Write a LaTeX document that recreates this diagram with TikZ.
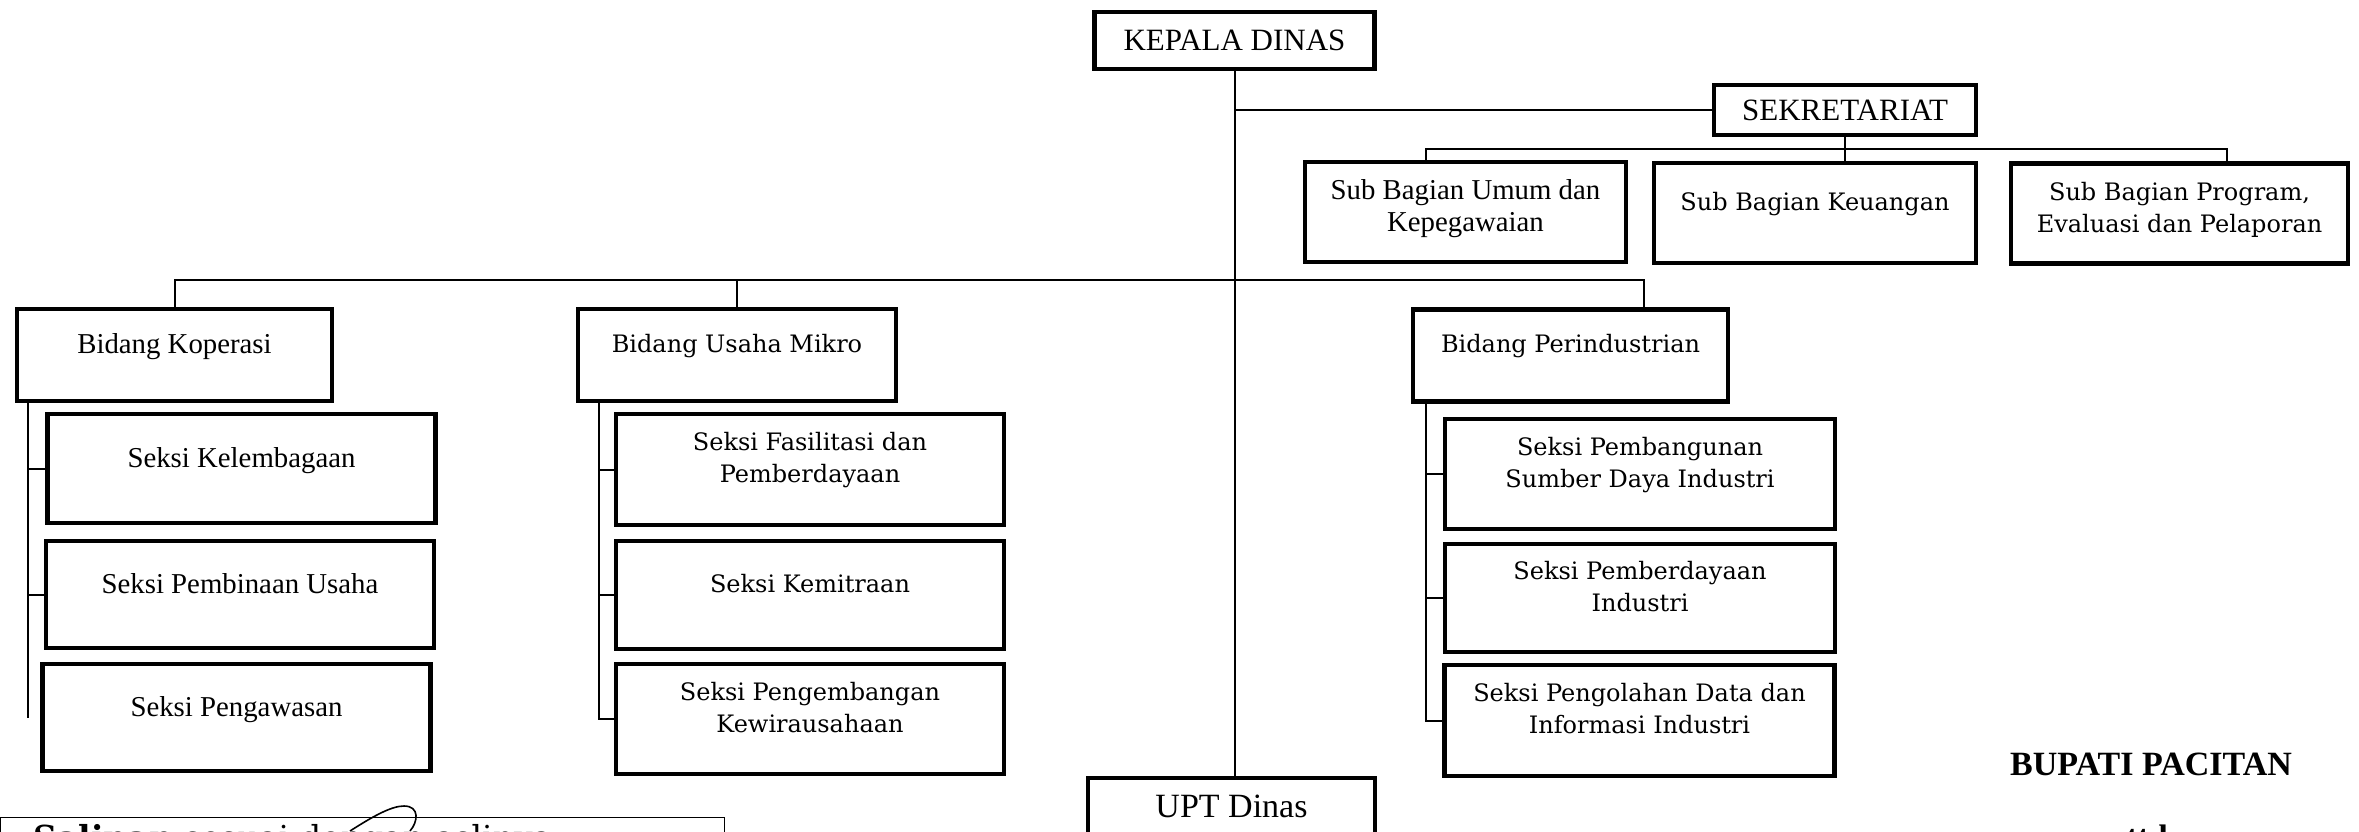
\documentclass[tikz,border=0pt]{standalone}
\usepackage{fontspec}
\setmainfont{Liberation Serif}
\newfontfamily\bookman{DejaVu Serif}
\usepackage{tikz}
\usetikzlibrary{calc}

\begin{document}
\begin{tikzpicture}[x=0.5pt,y=-0.5pt,
  unit/.style={draw, line width=2.2pt, align=center, inner sep=0pt},
  lifted/.style={text depth=12pt},
  romanlabel/.style={font=\fontsize{14.4}{16}\selectfont},
  booklabel/.style={font=\bookman\fontsize{12}{16}\selectfont},
  subbag/.style={unit, lifted, minimum height=50pt},
  bidang/.style={unit, lifted, minimum width=157.5pt, minimum height=46pt},
  seksi/.style={unit, lifted, minimum width=194pt, minimum height=54.5pt},
  link/.style={line width=1pt}]
\useasboundingbox (0,0) rectangle (2359,831);

\node[unit, font=\fontsize{15.5}{18}\selectfont, minimum width=140pt, minimum height=28.5pt] (kepala) at (1234.5,40.5) {KEPALA DINAS};
\node[unit, font=\fontsize{15.5}{18}\selectfont, minimum width=131pt, minimum height=25pt] (sekretariat) at (1845,110) {SEKRETARIAT};

\node[subbag, romanlabel, text depth=6pt, minimum width=160.5pt] (umum) at (1465.5,212) {Sub Bagian Umum dan\\Kepegawaian};
\node[subbag, booklabel, minimum width=161pt] (keuangan) at (1815,213) {Sub Bagian Keuangan};
\node[subbag, booklabel, text depth=6pt, minimum width=168.5pt] (program) at (2179.5,213.5) {Sub Bagian Program,\\Evaluasi dan Pelaporan};

\node[bidang, romanlabel] (koperasi) at (174.5,355) {Bidang Koperasi};
\node[bidang, booklabel, minimum width=159pt] (usaha) at (737,355) {Bidang Usaha Mikro};
\node[bidang, booklabel] (perindustrian) at (1570.5,355.5) {Bidang Perindustrian};

\node[seksi, romanlabel, text depth=11pt] (kelembagaan) at (241.5,468.5) {Seksi Kelembagaan};
\node[seksi, romanlabel, text depth=11pt, minimum height=53.5pt] (pembinaan) at (240,594.5) {Seksi Pembinaan Usaha};
\node[seksi, romanlabel, text depth=11pt, minimum height=53.5pt] (pengawasan) at (236.5,717.5) {Seksi Pengawasan};

\node[seksi, booklabel, minimum height=55.5pt] (fasilitasi) at (810,469.5) {Seksi Fasilitasi dan\\Pemberdayaan};
\node[seksi, booklabel, minimum height=54pt] (kemitraan) at (810,595) {Seksi Kemitraan};
\node[seksi, booklabel, minimum height=55pt] (pengembangan) at (810,719) {Seksi Pengembangan\\Kewirausahaan};

\node[seksi, booklabel, minimum width=195pt, minimum height=55pt] (pembangunan) at (1640,474) {Seksi Pembangunan\\Sumber Daya Industri};
\node[seksi, booklabel, minimum width=195pt, minimum height=54pt] (pemberdayaan) at (1640,598) {Seksi Pemberdayaan\\Industri};
\node[seksi, booklabel, minimum width=195pt, minimum height=55.5pt] (pengolahan) at (1639.5,720.5) {Seksi Pengolahan Data dan\\Informasi Industri};

\node[unit, font=\fontsize{17}{20}\selectfont, minimum width=143.5pt, minimum height=28pt] (upt) at (1231.5,806) {UPT Dinas};

\node[font=\bfseries\fontsize{17}{20}\selectfont, inner sep=0pt] (bupati) at (2151,764) {BUPATI PACITAN};
\node[font=\bfseries\fontsize{17}{20}\selectfont, inner sep=0pt, anchor=north] (ttd) at (2147,824) {ttd};

\node[draw, line width=0.6pt, anchor=north west, text width=329pt, align=left, inner xsep=16.5pt, inner ysep=3.5pt, font=\bookman\fontsize{16.5}{20}\selectfont] (salinan) at (0,817) {\textbf{Salinan} sesuai dengan aslinya};
\draw[line width=0.8pt] (350,831) .. controls (375,815) and (392,806) .. (404,806) .. controls (420,806) and (418,822) .. (410,831);

\coordinate (busL) at (1426,149);
\coordinate (busR) at (2227,149);
\coordinate (mainbus) at (1644,280);
\coordinate (kline) at (28,0);
\coordinate (uline) at (599,0);
\coordinate (pline) at (1426,0);

\draw[link] (kepala.south) -- (kepala.south |- upt.north);
\draw[link] (kepala.south |- sekretariat.west) -- (sekretariat.west);
\draw[link] (sekretariat.south) -- (sekretariat.south |- keuangan.north);
\draw[link] (busL |- umum.north) -- (busL) -- (busR) -- (busR |- program.north);

\draw[link] (koperasi.north) |- (mainbus) -- (mainbus |- perindustrian.north);
\draw[link] (usaha.north) -- (usaha.north |- mainbus);

\draw[link] (kline |- koperasi.south) -- (kline |- pengawasan.west);
\foreach \s in {kelembagaan,pembinaan}
  \draw[link] (kline |- \s.west) -- (\s.west);
\draw[link] (uline |- usaha.south) |- (pengembangan.west);
\foreach \s in {fasilitasi,kemitraan}
  \draw[link] (uline |- \s.west) -- (\s.west);
\draw[link] (pline |- perindustrian.south) |- (pengolahan.west);
\foreach \s in {pembangunan,pemberdayaan}
  \draw[link] (pline |- \s.west) -- (\s.west);
\end{tikzpicture}
\end{document}
